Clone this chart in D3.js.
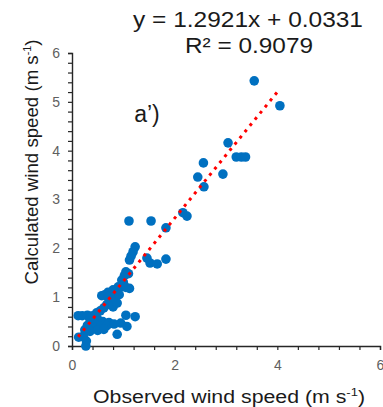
<!DOCTYPE html>
<html>
<head>
<meta charset="utf-8">
<script src="https://cdn.jsdelivr.net/npm/d3@7"></script>
<style>
  html, body { margin: 0; padding: 0; background: #fff; }
  svg { display: block; font-family: Arial, "Liberation Sans", sans-serif; }
</style>
</head>
<body>
<div id="chart"></div>
<script>
// ── Data ──
const observed = [
  3.55, 4.05, 3.04, 3.20, 3.30, 3.38, 2.56, 2.45, 2.94, 2.57,
  2.16, 2.24, 1.11, 1.54, 1.83, 1.23, 1.19, 1.15, 1.12, 1.46,
  1.52, 1.66, 1.83, 1.05, 1.02, 1.10, 1.00, 0.90, 0.97, 1.05,
  1.12, 0.80, 0.70, 0.64, 0.58, 0.84, 0.92, 0.75, 0.68, 0.80,
  0.88, 0.62, 0.55, 0.48, 0.40, 0.30, 0.20, 0.12, 0.35, 0.50,
  0.60, 0.72, 0.45, 0.30, 0.40, 0.55, 0.68, 0.82, 0.95, 0.25,
  0.35, 0.50, 0.62, 1.05, 1.23, 1.07, 0.88, 0.13, 0.22, 0.28,
  0.27, 0.70, 0.97
];
const calculated = [
  5.43, 4.92, 4.16, 3.87, 3.87, 3.87, 3.75, 3.46, 3.52, 3.26,
  2.73, 2.66, 2.56, 2.56, 2.42, 2.03, 1.93, 1.84, 1.76, 1.80,
  1.70, 1.68, 1.78, 1.52, 1.44, 1.48, 1.30, 1.21, 1.22, 1.20,
  1.18, 1.15, 1.10, 1.05, 1.03, 1.00, 1.05, 0.92, 0.85, 0.80,
  0.88, 0.78, 0.72, 0.68, 0.62, 0.63, 0.62, 0.62, 0.55, 0.55,
  0.50, 0.48, 0.45, 0.42, 0.38, 0.40, 0.42, 0.45, 0.47, 0.33,
  0.30, 0.32, 0.34, 0.63, 0.60, 0.40, 0.24, 0.18, 0.20, 0.10,
  0.00, 1.00, 1.35
];
const slope = 1.2921;
const intercept = 0.0331;
const trendRange = [0.12, 4.0];
const equationText = 'y = 1.2921x + 0.0331';
const r2Text = 'R² = 0.9079';
const panelLabel = 'a’)';
const xTicks = d3.range(16).map(i => +(i * 0.4).toFixed(1));
const yTicks = d3.range(31).map(i => +(i * 0.2).toFixed(1));

const W = 383, H = 407;

const svg = d3.select('#chart').append('svg')
  .attr('width', W)
  .attr('height', H);

const x = d3.scaleLinear().domain([0, 6]).range([72, 380]);
const y = d3.scaleLinear().domain([0, 6]).range([346, 53]);

const isLabel = (v, step) => Math.abs(v - Math.round(v)) < 1e-6 && Math.round(v) % step === 0;

// ── Axes ──
const yAxis = svg.append('g')
  .attr('transform', `translate(${x(0)},0)`)
  .call(d3.axisLeft(y).tickValues(yTicks).tickSize(4).tickPadding(8)
    .tickFormat(v => isLabel(v, 1) ? d3.format('d')(v) : ''));

const xAxis = svg.append('g')
  .attr('transform', `translate(0,${y(0)})`)
  .call(d3.axisBottom(x).tickValues(xTicks).tickSize(4).tickPadding(10)
    .tickFormat(v => isLabel(v, 2) ? d3.format('d')(v) : ''));

[xAxis, yAxis].forEach(ax => {
  ax.select('.domain').attr('stroke', '#262626').attr('stroke-width', 1.4);
  ax.selectAll('.tick line').attr('stroke', '#262626').attr('stroke-width', 1.2);
  ax.selectAll('.tick text')
    .attr('fill', '#5f5f5f')
    .attr('font-size', '14px')
    .attr('font-family', 'Arial, "Liberation Sans", sans-serif');
});

// ── Points ──
svg.append('g')
  .selectAll('circle')
  .data(observed.map((v, i) => [v, calculated[i]]))
  .join('circle')
  .attr('cx', d => x(d[0]))
  .attr('cy', d => y(d[1]))
  .attr('r', 4.8)
  .attr('fill', '#0070C0');

// ── Trend line ──
svg.append('line')
  .attr('x1', x(trendRange[0]))
  .attr('y1', y(slope * trendRange[0] + intercept))
  .attr('x2', x(trendRange[1]))
  .attr('y2', y(slope * trendRange[1] + intercept))
  .attr('stroke', '#FF0000')
  .attr('stroke-width', 3)
  .attr('stroke-dasharray', '3 5');

// ── Texts ──
svg.append('text')
  .attr('x', 248).attr('y', 27)
  .attr('text-anchor', 'middle')
  .attr('font-size', '22px')
  .attr('fill', '#1a1a1a')
  .attr('textLength', 230).attr('lengthAdjust', 'spacingAndGlyphs')
  .text(equationText);

svg.append('text')
  .attr('x', 249).attr('y', 53)
  .attr('text-anchor', 'middle')
  .attr('font-size', '22px')
  .attr('fill', '#1a1a1a')
  .attr('textLength', 128).attr('lengthAdjust', 'spacingAndGlyphs')
  .text(r2Text);

svg.append('text')
  .attr('x', 147).attr('y', 122)
  .attr('text-anchor', 'middle')
  .attr('font-size', '23px')
  .attr('fill', '#1a1a1a')
  .text(panelLabel);

const xLabel = svg.append('text')
  .attr('x', 229).attr('y', 403)
  .attr('text-anchor', 'middle')
  .attr('font-size', '18px')
  .attr('fill', '#1a1a1a')
  .attr('textLength', 272).attr('lengthAdjust', 'spacingAndGlyphs');
xLabel.append('tspan').text('Observed wind speed (m s');
xLabel.append('tspan').attr('font-size', '11px').attr('dy', -7).text('-1');
xLabel.append('tspan').attr('dy', 7).text(')');

const yLabel = svg.append('text')
  .attr('transform', 'translate(38,162) rotate(-90)')
  .attr('text-anchor', 'middle')
  .attr('font-size', '19px')
  .attr('fill', '#1a1a1a')
  .attr('textLength', 245).attr('lengthAdjust', 'spacingAndGlyphs');
yLabel.append('tspan').text('Calculated wind speed (m s');
yLabel.append('tspan').attr('font-size', '11px').attr('dy', -7).text('-1');
yLabel.append('tspan').attr('dy', 7).text(')');
</script>
</body>
</html>
